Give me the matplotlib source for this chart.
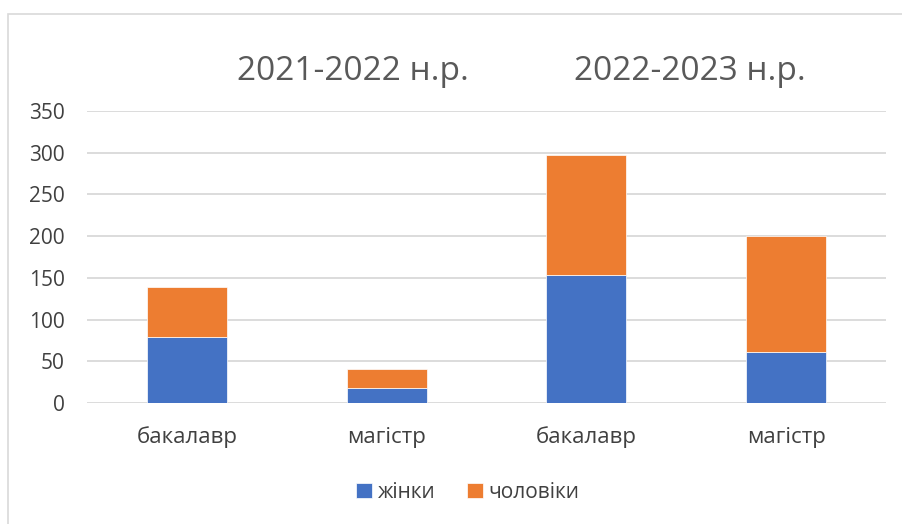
import matplotlib.pyplot as plt
from matplotlib.patches import Rectangle

# data
categories = ['бакалавр', 'магістр', 'бакалавр', 'магістр']
women = [79, 18, 154, 61]
men = [60, 23, 143, 139]
years = ['2021-2022 н.р.', '2022-2023 н.р.']
yticks = [0, 50, 100, 150, 200, 250, 300, 350]

BLUE = '#4472C4'
ORANGE = '#ED7D31'
W, H = 903, 524

plt.rcParams['font.family'] = ['Open Sans', 'DejaVu Sans']

fig = plt.figure(figsize=(W / 100, H / 100), dpi=100)
# plot area in pixel terms: x 87..886, y 111..403
ax = fig.add_axes([87 / W, 1 - 403 / H, (886 - 87) / W, (403 - 111) / H])

x = list(range(len(categories)))
ax.bar(x, women, width=0.4, color=BLUE, label='жінки', zorder=3,
       edgecolor='white', linewidth=0.5)
ax.bar(x, men, width=0.4, bottom=women, color=ORANGE, label='чоловіки',
       zorder=3, edgecolor='white', linewidth=0.5)

ax.set_xlim(-0.5, len(categories) - 0.5)
ax.set_ylim(0, 350)
ax.set_yticks(yticks)
ax.set_xticks(x)
ax.set_xticklabels(categories)
ax.tick_params(axis='both', length=0, colors='#404040')
ax.tick_params(axis='x', pad=17, labelsize=16)
ax.tick_params(axis='y', pad=16, labelsize=15)
ax.yaxis.grid(True, color='#D9D9D9', linewidth=1.3, zorder=0)
for s in ax.spines.values():
    s.set_visible(False)

# period titles above each pair of bars
fig.text(353 / W, 1 - 71 / H, years[0], ha='center', va='center',
         fontsize=24, color='#595959')
fig.text(690 / W, 1 - 71 / H, years[1], ha='center', va='center',
         fontsize=24, color='#595959')

leg = fig.legend(loc='center', bbox_to_anchor=(468 / W, 1 - 492 / H), ncol=2,
                 frameon=False, fontsize=15, handlelength=0.75,
                 handleheight=0.75, handletextpad=0.3, columnspacing=1.5)
for t in leg.get_texts():
    t.set_color('#404040')

# outer chart frame
fig.patches.append(Rectangle((8 / W, -0.1), 1.2, 1 - 14 / H + 0.1,
                             transform=fig.transFigure, fill=False,
                             edgecolor='#D9D9D9', linewidth=1.2))

fig.savefig('out.png', dpi=100)
